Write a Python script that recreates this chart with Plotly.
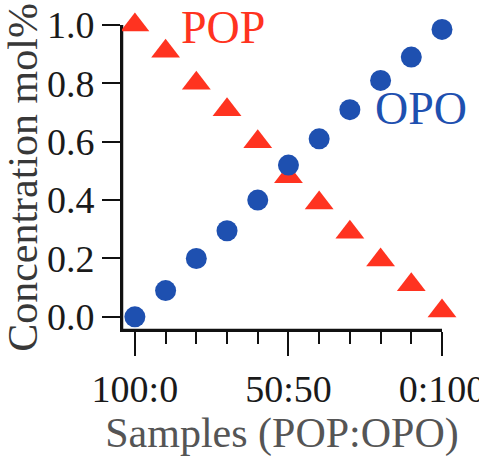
import plotly.graph_objects as go

# Data
opo_pct = [0, 10, 20, 30, 40, 50, 60, 70, 80, 90, 100]
pop_conc = [1.00, 0.91, 0.80, 0.71, 0.60, 0.48, 0.39, 0.29, 0.195, 0.11, 0.02]
opo_conc = [0.00, 0.09, 0.20, 0.295, 0.40, 0.52, 0.61, 0.71, 0.81, 0.89, 0.985]
tick_vals = [0, 50, 100]
tick_text = ["100:0", "50:50", "0:100"]
y_ticks = [0.0, 0.2, 0.4, 0.6, 0.8, 1.0]

RED = "#FF3320"
BLUE = "#1E50B0"
FONT = "Liberation Serif"
AX = "#111111"

W, H = 479, 462
ML, MR, MT, MB = 122, 37, 25, 132
XR = [-4.2, 100]
YR = [-0.045, 1.0]
px_x = (XR[1] - XR[0]) / (W - ML - MR)   # data units per pixel
px_y = (YR[1] - YR[0]) / (H - MT - MB)

fig = go.Figure()

# axis frame + ticks as a line trace (backup to the native axis lines)
ax_x, ax_y = [XR[0], XR[1], None, XR[0], XR[0]], [YR[0], YR[0], None, YR[0], YR[1]]
for v in opo_pct:
    ln = 24 if v in tick_vals else 12
    ax_x += [None, v, v]
    ax_y += [None, YR[0], YR[0] - ln * px_y]
for v in y_ticks:
    ax_x += [None, XR[0], XR[0] - 18 * px_x]
    ax_y += [None, v, v]
fig.add_trace(go.Scatter(x=ax_x, y=ax_y, mode="lines", line=dict(color=AX, width=2.5),
                         cliponaxis=False, hoverinfo="skip", showlegend=False))

fig.add_trace(go.Scatter(
    x=opo_pct, y=pop_conc, mode="markers", name="POP",
    marker=dict(symbol="triangle-up", size=25, color=RED),
    cliponaxis=False))
fig.add_trace(go.Scatter(
    x=opo_pct, y=opo_conc, mode="markers", name="OPO",
    marker=dict(symbol="circle", size=21, color=BLUE),
    cliponaxis=False))

fig.add_annotation(x=14.5, y=0.99, text="POP", showarrow=False, xanchor="left",
                   yanchor="middle", font=dict(family=FONT, size=46, color=RED))
fig.add_annotation(x=77.5, y=0.715, text="OPO", showarrow=False, xanchor="left",
                   yanchor="middle", font=dict(family=FONT, size=46, color=BLUE))

fig.update_layout(
    width=W, height=H,
    margin=dict(l=ML, r=MR, t=MT, b=MB, autoexpand=False),
    plot_bgcolor="white", paper_bgcolor="white",
    showlegend=False,
    font=dict(family=FONT, color="#1a1a1a"),
    xaxis=dict(
        range=XR, showgrid=False, zeroline=False, automargin=False,
        showline=True, linecolor=AX, linewidth=2,
        tickmode="array", tickvals=tick_vals, ticktext=tick_text,
        ticks="outside", ticklen=24, tickwidth=2, tickcolor=AX,
        minor=dict(dtick=10, tick0=0, ticks="outside", ticklen=12, tickwidth=2, tickcolor=AX),
        ticklabeloverflow="allow",
        tickfont=dict(family=FONT, size=38, color="#1a1a1a"),
        title=dict(text="Samples (POP:OPO)", font=dict(family=FONT, size=42, color="#555"), standoff=8),
    ),
    yaxis=dict(
        range=YR, showgrid=False, zeroline=False, automargin=False,
        showline=True, linecolor=AX, linewidth=2,
        tickmode="array", tickvals=y_ticks, ticktext=[f"{v:.1f}" for v in y_ticks],
        ticks="outside", ticklen=18, tickwidth=2, tickcolor=AX,
        tickfont=dict(family=FONT, size=38, color="#1a1a1a"),
        title=dict(text="Concentration mol%", font=dict(family=FONT, size=42, color="#383838"), standoff=2),
    ),
)

fig.write_html("out.html")
